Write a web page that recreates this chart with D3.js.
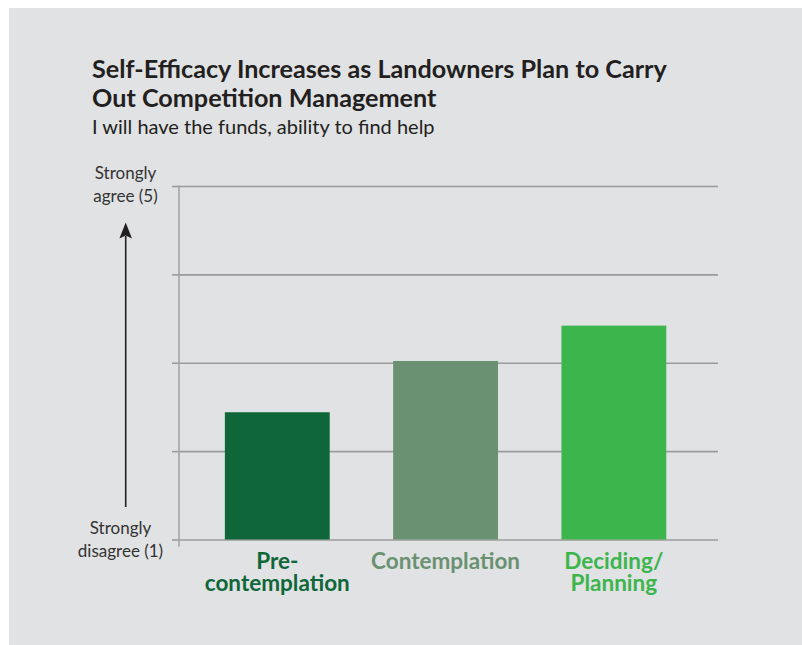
<!DOCTYPE html>
<html>
<head>
<meta charset="utf-8">
<script src="https://cdn.jsdelivr.net/npm/d3@7"></script>
<style>
  html, body { margin: 0; padding: 0; background: #ffffff; }
  svg { display: block; font-family: Lato, "Open Sans", sans-serif; }
</style>
</head>
<body>
<svg id="chart" width="802" height="645"></svg>
<script>
// Stages of change and mean self-efficacy score (1 = strongly disagree, 5 = strongly agree)
const stages = ["Pre-contemplation", "Contemplation", "Deciding/Planning"];
const stageLabelLines = [["Pre-", "contemplation"], ["Contemplation"], ["Deciding/", "Planning"]];
const scores = [2.44, 3.02, 3.42];
const stageColors = ["#0f6739", "#6a9172", "#3cb54c"];
const scaleTicks = [1, 2, 3, 4, 5];
const topLabelLines = ["Strongly", "agree (5)"];
const bottomLabelLines = ["Strongly", "disagree (1)"];
const titleLines = ["Self-Efficacy Increases as Landowners Plan to Carry", "Out Competition Management"];
const subtitle = "I will have the funds, ability to find help";

const svg = d3.select("#chart");

// panel background
svg.append("rect")
  .attr("x", 9).attr("y", 8)
  .attr("width", 793).attr("height", 637)
  .attr("fill", "#e1e2e4");

const plot = { left: 179, right: 718, top: 186, bottom: 539.5 };

const x = d3.scaleBand()
  .domain(stages)
  .range([plot.left, plot.right])
  .paddingInner(0.377)
  .paddingOuter(0.29)
  .align(0.47);

const y = d3.scaleLinear()
  .domain([1, 5])
  .range([plot.bottom, plot.top]);

// title block
const title = svg.append("text")
  .attr("x", 92).attr("y", 78)
  .attr("fill", "#231f20")
  .attr("font-size", 25.2)
  .attr("font-weight", 700);
title.selectAll("tspan").data(titleLines).join("tspan")
  .attr("x", 92)
  .attr("dy", (d, i) => i === 0 ? 0 : 29)
  .text(d => d);

svg.append("text")
  .attr("x", 92).attr("y", 133.5)
  .attr("fill", "#231f20")
  .attr("font-size", 20)
  .text(subtitle);

// horizontal gridlines
const grid = svg.append("g")
  .attr("transform", `translate(${plot.left},0)`)
  .call(d3.axisLeft(y).tickValues(scaleTicks).tickSize(-(plot.right - plot.left)).tickFormat(""));
grid.select(".domain").remove();
grid.selectAll(".tick line").attr("stroke", "#9b9b9d").attr("stroke-width", 1.6);

// short outer ticks on the value axis
const ticks = svg.append("g")
  .attr("transform", `translate(${plot.left},0)`)
  .call(d3.axisLeft(y).tickValues(scaleTicks).tickSize(7).tickFormat(""));
ticks.select(".domain").remove();
ticks.selectAll(".tick line").attr("stroke", "#9b9b9d").attr("stroke-width", 1.6);

// vertical axis line
svg.append("line")
  .attr("x1", plot.left).attr("x2", plot.left)
  .attr("y1", y(5) - 0.8).attr("y2", y(1) + 7)
  .attr("stroke", "#a4a4a6").attr("stroke-width", 1.6);

// bars
svg.append("g").selectAll("rect").data(stages).join("rect")
  .attr("x", d => x(d))
  .attr("width", x.bandwidth())
  .attr("y", (d, i) => y(scores[i]))
  .attr("height", (d, i) => y(1) - y(scores[i]))
  .attr("fill", (d, i) => stageColors[i]);

// category labels
const catLabels = svg.append("g").selectAll("text").data(stages).join("text")
  .attr("text-anchor", "middle")
  .attr("font-size", 22.5)
  .attr("font-weight", 700)
  .attr("fill", (d, i) => stageColors[i])
  .attr("x", d => x(d) + x.bandwidth() / 2)
  .attr("y", 568.5);
catLabels.selectAll("tspan").data((d, i) => stageLabelLines[i]).join("tspan")
  .attr("x", function () { return d3.select(this.parentNode).attr("x"); })
  .attr("dy", (d, i) => i === 0 ? 0 : 22)
  .text(d => d);

// scale end labels
function endLabel(lines, cx, baseline) {
  const t = svg.append("text")
    .attr("text-anchor", "middle")
    .attr("font-size", 17)
    .attr("fill", "#333333")
    .attr("y", baseline);
  t.selectAll("tspan").data(lines).join("tspan")
    .attr("x", cx)
    .attr("dy", (d, i) => i === 0 ? 0 : 23)
    .text(d => d);
}
endLabel(topLabelLines, 125.5, 179);
endLabel(bottomLabelLines, 120.5, 534);

// upward arrow between the scale labels
const arrowX = 125.7;
svg.append("line")
  .attr("x1", arrowX).attr("x2", arrowX)
  .attr("y1", 507).attr("y2", 236)
  .attr("stroke", "#231f20").attr("stroke-width", 1.6);
svg.append("path")
  .attr("d", d3.line()([[arrowX, 222.5], [arrowX + 6.3, 238.5], [arrowX, 235.5], [arrowX - 6.3, 238.5]]) + "Z")
  .attr("fill", "#231f20");
</script>
</body>
</html>
